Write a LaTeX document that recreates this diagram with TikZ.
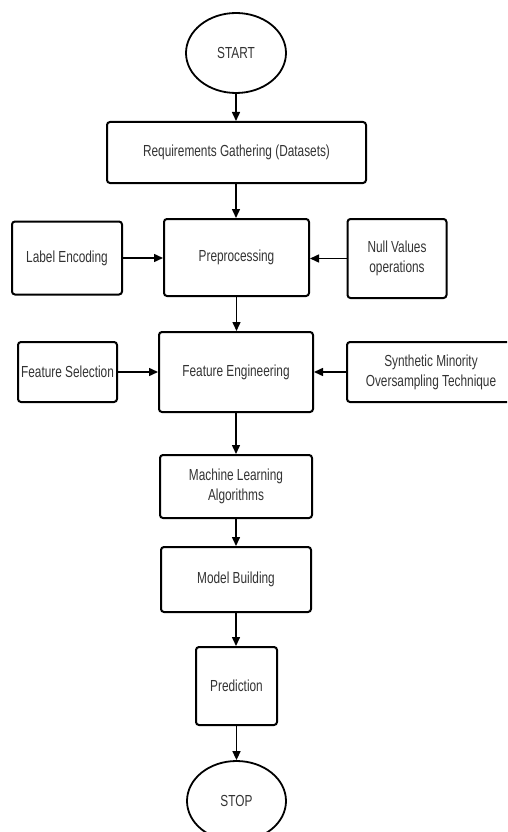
\documentclass[tikz,border=0pt]{standalone}
\usepackage{fontspec}
\setmainfont{Liberation Sans}[FakeStretch=0.74]
\usetikzlibrary{shapes.geometric,arrows.meta}
\definecolor{txt}{HTML}{333333}
\tikzset{
  box/.style={draw=black, line width=2pt, rounded corners=3pt, inner sep=2pt,
    text=txt, font=\fontsize{16}{20}\selectfont, align=center},
  term/.style={draw=black, line width=1.8pt, ellipse, inner sep=0pt,
    text=txt, font=\fontsize{16}{20}\selectfont},
  flow/.style={line width=1.5pt, -{Triangle[length=9pt,width=8pt]}}
}
\begin{document}
\begin{tikzpicture}[x=1pt,y=-1pt]
\useasboundingbox (0,0) rectangle (507,832);
\clip (0,0) rectangle (507,832);
\node[term, minimum width=100pt, minimum height=80pt] (start) at (236,53) {START};
\node[box, minimum width=259pt, minimum height=61pt] (req) at (236.5,152.5) {Requirements Gathering (Datasets)};
\node[box, minimum width=145pt, minimum height=77pt] (pre) at (236.5,257.5) {Preprocessing};
\node[box, minimum width=110pt, minimum height=73pt] (le) at (67,258) {Label Encoding};
\node[box, minimum width=99pt, minimum height=79pt] (nv) at (397,258.5) {Null Values\\operations};
\node[box, minimum width=154pt, minimum height=80pt] (fe) at (236,372) {Feature Engineering};
\node[box, minimum width=99pt, minimum height=60pt] (fs) at (67.5,372) {Feature Selection};
\node[box, minimum width=168pt, minimum height=60pt] (sm) at (431,372) {Synthetic Minority\\Oversampling Technique};
\node[box, minimum width=152pt, minimum height=63pt] (ml) at (236,486.5) {Machine Learning\\Algorithms};
\node[box, minimum width=150pt, minimum height=65pt] (mb) at (236,579.5) {Model Building};
\node[box, minimum width=81pt, minimum height=78pt] (pred) at (236.5,686) {Prediction};
\node[term, minimum width=99pt, minimum height=80pt] (stop) at (236.5,801) {STOP};

\draw[flow] (start.south) -- (req.north -| start.south);
\draw[flow] (req.south -| start.south) -- (pre.north -| start.south);
\draw[flow] (le.east) -- (pre.west |- le.east);
\draw[flow] (nv.west) -- (pre.east |- nv.west);
\draw[flow] (pre.south) -- (fe.north -| pre.south);
\draw[flow] (fs.east) -- (fe.west |- fs.east);
\draw[flow] (sm.west) -- (fe.east |- sm.west);
\draw[flow] (fe.south) -- (ml.north -| fe.south);
\draw[flow] (ml.south) -- (mb.north -| ml.south);
\draw[flow] (mb.south) -- (pred.north -| mb.south);
\draw[flow] (pred.south) -- (stop.north -| pred.south);
\end{tikzpicture}
\end{document}
